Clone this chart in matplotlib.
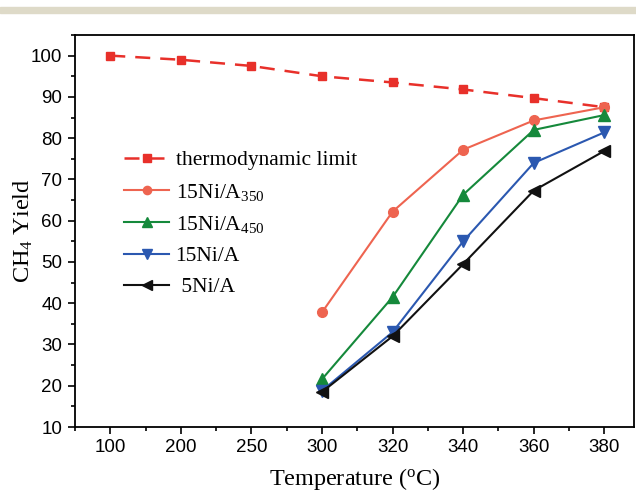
import matplotlib
matplotlib.use("Agg")
import matplotlib.pyplot as plt
from matplotlib.ticker import MultipleLocator
from matplotlib.patches import Rectangle

plt.rcParams["mathtext.fontset"] = "custom"
plt.rcParams["mathtext.rm"] = "Liberation Serif"
plt.rcParams["mathtext.it"] = "Liberation Serif:italic"
plt.rcParams["mathtext.bf"] = "Liberation Serif:bold"

temps = ["100", "200", "250", "300", "320", "340", "360", "380"]
thermo = [100, 99, 97.5, 95, 93.5, 91.8, 89.7, 87.5]
cat_temps = ["300", "320", "340", "360", "380"]
ni15_350 = [37.8, 62.2, 77.2, 84.3, 87.5]
ni15_450 = [21.6, 41.5, 66.3, 82.0, 85.6]
ni15 = [18.8, 33.0, 55.0, 74.0, 81.4]
ni5 = [18.5, 32.0, 49.5, 67.3, 76.9]

fig = plt.figure(figsize=(6.36, 4.93), dpi=100)
fig.patches.append(Rectangle((0, 1 - 13/493), 1, 6/493, transform=fig.transFigure,
                             color="#dedac8", zorder=0))
ax = fig.add_axes([75/636, 1 - 427/493, (634 - 75)/636, (427 - 35)/493])

xi = list(range(len(temps)))
off = temps.index(cat_temps[0])
xc = [off + i for i in range(len(cat_temps))]

ax.plot(xi, thermo, ls=(0, (6, 4)), color="#e8302a", marker="s", ms=6, lw=1.8,
        label="thermodynamic limit")
ax.plot(xc, ni15_350, color="#ee6450", marker="o", ms=7, lw=1.5,
        label="15Ni/A$_{\\rm 350}$")
ax.plot(xc, ni15_450, color="#15893b", marker="^", ms=8, lw=1.5,
        label="15Ni/A$_{\\rm 450}$")
ax.plot(xc, ni15, color="#2b58b0", marker="v", ms=8, lw=1.5,
        label="15Ni/A")
ax.plot(xc, ni5, color="#111111", marker="<", ms=8, lw=1.5,
        label=" 5Ni/A")

ax.set_xlim(-0.5, 7.42)
ax.set_ylim(10, 105)
ax.set_xticks(xi)
ax.set_xticklabels(temps, family="Liberation Sans", fontsize=13.5)
ax.xaxis.set_minor_locator(MultipleLocator(0.5))
ax.yaxis.set_major_locator(MultipleLocator(10))
ax.yaxis.set_minor_locator(MultipleLocator(5))
for lab in ax.get_yticklabels():
    lab.set_family("Liberation Sans")
    lab.set_fontsize(13.5)
ax.tick_params(which="major", direction="out", length=5, width=1.2, pad=4)
ax.tick_params(which="minor", direction="out", length=3, width=1.2)
for s in ax.spines.values():
    s.set_linewidth(1.3)

ax.set_xlabel("Temperature ($^{\\rm o}$C)", family="Liberation Serif", fontsize=17.4, labelpad=7)
ax.set_ylabel("CH$_{\\rm 4}$ Yield", family="Liberation Serif", fontsize=17.5, labelpad=-3)

leg = ax.legend(loc="upper left", bbox_to_anchor=(0.053, 0.755), frameon=False,
                prop={"family": "Liberation Serif", "size": 15.5},
                handlelength=2.1, labelspacing=0.52, handletextpad=0.3,
                markerscale=0.85)

fig.savefig("out.png", dpi=100)
